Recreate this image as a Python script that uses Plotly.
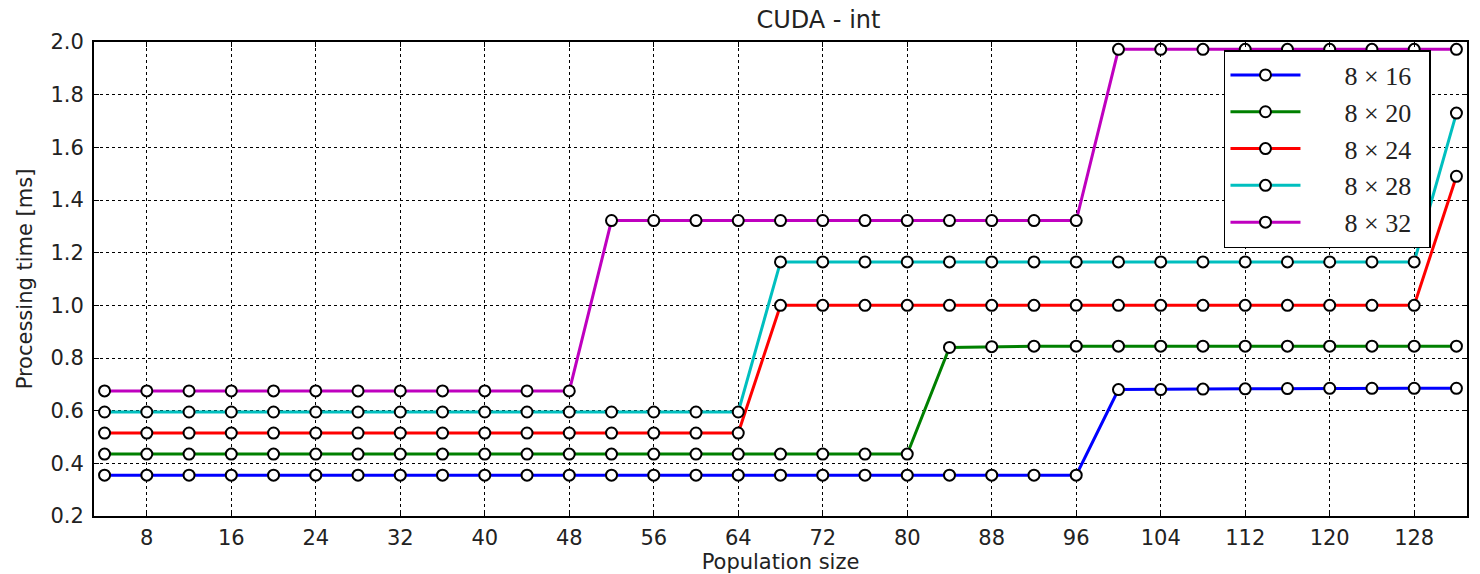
import plotly.graph_objects as go

pop = list(range(4, 133, 4))

s8x16 = [0.355]*24 + [0.680, 0.680, 0.682, 0.683, 0.684, 0.685, 0.685, 0.685, 0.685]
s8x20 = [0.435]*20 + [0.840, 0.843, 0.845, 0.845, 0.845, 0.845, 0.845, 0.845, 0.845, 0.845, 0.845, 0.845, 0.845]
s8x24 = [0.515]*16 + [1.000]*16 + [1.490]
s8x28 = [0.595]*16 + [1.165]*16 + [1.730]
s8x32 = [0.675]*12 + [1.322]*12 + [1.972]*9

names = ["8 × 16", "8 × 20", "8 × 24", "8 × 28", "8 × 32"]
series = [s8x16, s8x20, s8x24, s8x28, s8x32]
colors = ["#0000ff", "#008000", "#ff0000", "#00bfbf", "#bf00bf"]

xticks = list(range(8, 129, 8))
yticks = [0.2, 0.4, 0.6, 0.8, 1.0, 1.2, 1.4, 1.6, 1.8, 2.0]

fig = go.Figure()
for n, s, c in zip(names, series, colors):
    fig.add_trace(go.Scatter(
        x=pop, y=s,
        name="\u2002\u2002\u00a0\u00a0" + n + "<span style='color:rgba(0,0,0,0)'>\u00a0.</span>",
        mode="lines+markers",
        line=dict(color=c, width=3),
        marker=dict(symbol="circle", size=11, color="white",
                    line=dict(color="black", width=2)),
    ))

axis_common = dict(
    showline=True, linecolor="black", linewidth=2, mirror="ticks",
    ticks="inside", ticklen=5, tickcolor="black", tickwidth=1,
    showgrid=True, gridcolor="black", gridwidth=1, griddash="dot",
    zeroline=False, automargin=False,
    tickfont=dict(family="DejaVu Sans", size=21, color="#222"),
)

fig.update_layout(
    width=1480, height=574,
    margin=dict(l=94, r=13, t=42, b=58),
    paper_bgcolor="white", plot_bgcolor="white",
    title=dict(text="CUDA - int", x=0.553, xanchor="center", y=0.966, yanchor="middle",
               font=dict(family="DejaVu Sans", size=24, color="#222")),
    xaxis=dict(range=[3, 133], tickvals=xticks, ticktext=[str(v) for v in xticks],
               ticklabelstandoff=2,
               title=dict(text="Population size", standoff=2,
                          font=dict(family="DejaVu Sans", size=21, color="#222")),
               **axis_common),
    yaxis=dict(range=[0.2, 2.0], tickvals=yticks, ticktext=[f"{v:.1f}" for v in yticks],
               ticklabelstandoff=4,
               title=dict(text="Processing time [ms]", standoff=12,
                          font=dict(family="DejaVu Sans", size=21, color="#222")),
               **axis_common),
    legend=dict(x=0.823, y=0.983, xanchor="left", yanchor="top",
                bgcolor="white", bordercolor="black", borderwidth=1.5,
                font=dict(family="Liberation Serif", size=26, color="#222"),
                itemwidth=70, tracegroupgap=0),
    showlegend=True,
)

fig.write_html("out.html")
